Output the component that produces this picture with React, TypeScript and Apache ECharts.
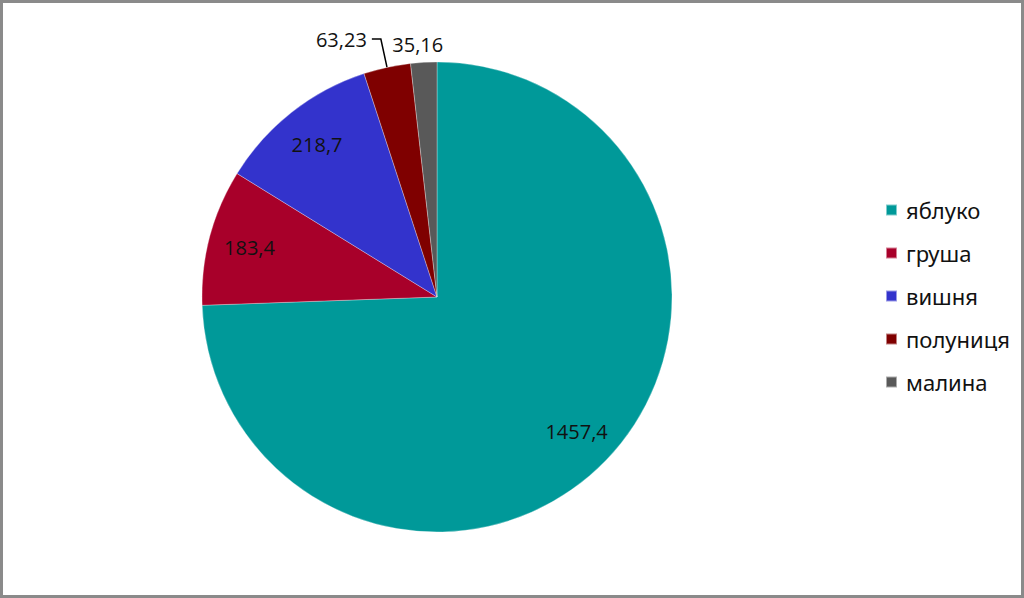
import React, { useEffect, useRef } from "react";
import * as echarts from "echarts";

const categories = ["яблуко", "груша", "вишня", "полуниця", "малина"];
const values = [1457.4, 183.4, 218.7, 63.23, 35.16];
const valueLabels = ["1457,4", "183,4", "218,7", "63,23", "35,16"];
const colors = ["#009999", "#A8002A", "#3333CC", "#7F0000", "#595959"];
const insideLabelled = [true, true, true, false, false];

export default function App() {
  const ref = useRef<HTMLDivElement>(null);
  useEffect(() => {
    if (!ref.current) return;
    const chart = echarts.init(ref.current, undefined, { renderer: "svg" });
    const labelFont = { fontFamily: "Open Sans, sans-serif", fontSize: 20, color: "#111" };
    chart.setOption({
      animation: false,
      backgroundColor: "#ffffff",
      color: colors,
      legend: {
        orient: "vertical",
        left: 885,
        top: 199,
        padding: 0,
        icon: "rect",
        itemWidth: 11,
        itemHeight: 11,
        itemGap: 21,
        selectedMode: false,
        textStyle: {
          fontFamily: "Noto Sans, sans-serif",
          fontSize: 22,
          color: "#111",
          padding: [0, 0, 0, 4],
        },
        data: categories,
      },
      series: [
        {
          type: "pie",
          center: [437, 297],
          radius: [0, 235],
          startAngle: 90,
          clockwise: true,
          avoidLabelOverlap: false,
          itemStyle: { borderColor: "rgba(255,255,255,0.5)", borderWidth: 0.6 },
          emphasis: { disabled: true },
          label: { show: false },
          labelLine: { show: false },
          labelLayout: (p: any) => (p.dataIndex === 4 ? { align: "center" } : {}),
          data: categories.map((name, i) => ({
            name,
            value: values[i],
            label: insideLabelled[i]
              ? { show: false }
              : {
                  show: true,
                  position: "outside",
                  formatter: valueLabels[i],
                  ...labelFont,
                },
            labelLine:
              i === 3
                ? { show: true, length: 29, length2: 9, smooth: false, lineStyle: { color: "#000", width: 1.5 } }
                : { show: false, length: 18, length2: 0 },
          })),
        },
        {
          type: "pie",
          center: [437, 297],
          radius: [142, 240],
          startAngle: 90,
          clockwise: true,
          silent: true,
          legendHoverLink: false,
          itemStyle: { color: "rgba(0,0,0,0)", borderWidth: 0 },
          emphasis: { disabled: true },
          labelLine: { show: false },
          label: { show: false },
          data: categories.map((name, i) => ({
            name,
            value: values[i],
            itemStyle: { color: "rgba(0,0,0,0)" },
            label: insideLabelled[i]
              ? { show: true, position: "inside", formatter: valueLabels[i], ...labelFont }
              : { show: false },
          })),
        },
      ],
    });
    return () => chart.dispose();
  }, []);
  return (
    <div style={{ position: "absolute", left: 0, top: 0, width: 1024, height: 598 }}>
      <div ref={ref} style={{ position: "absolute", left: 0, top: 0, width: 1024, height: 598 }} />
      <div
        style={{
          position: "absolute",
          left: 0,
          top: 0,
          width: 1024,
          height: 598,
          boxSizing: "border-box",
          border: "3px solid #8a8a8a",
          pointerEvents: "none",
        }}
      />
    </div>
  );
}
